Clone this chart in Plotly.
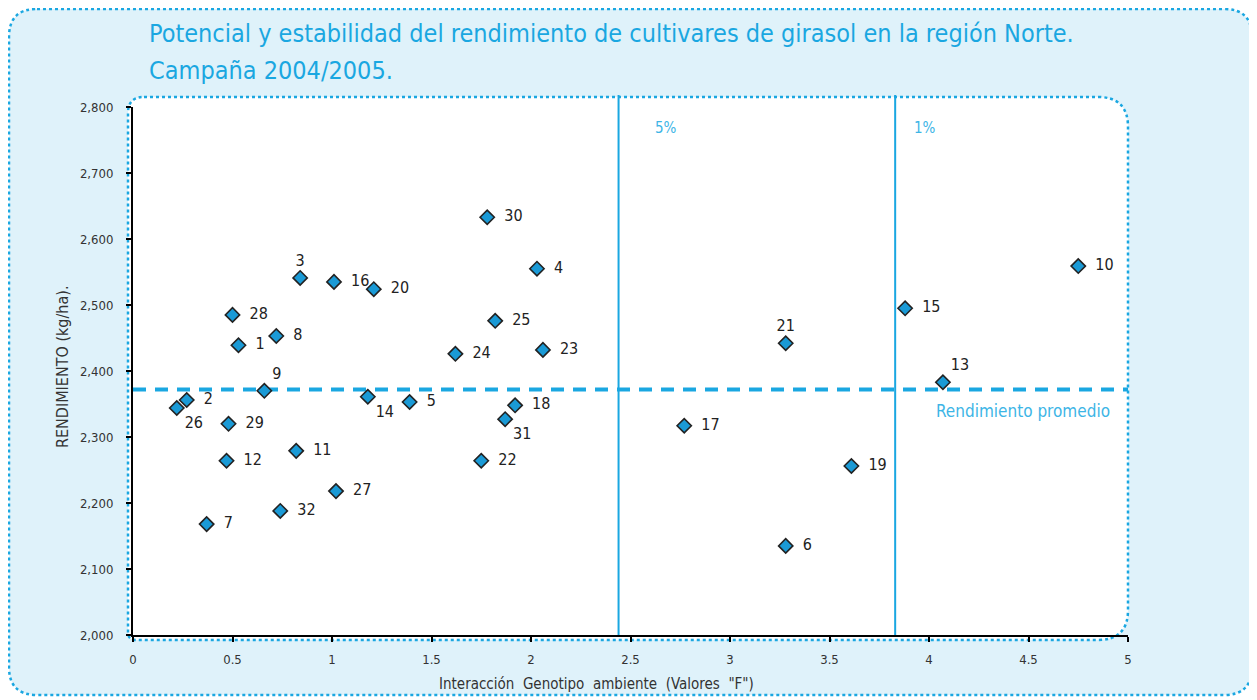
import plotly.graph_objects as go

# ===== data =====
cultivares = ["1", "2", "3", "4", "5", "6", "7", "8", "9", "10", "11", "12", "13", "14", "15", "16",
              "17", "18", "19", "20", "21", "22", "23", "24", "25", "26", "27", "28", "29", "30", "31", "32"]
valores_f = [0.53, 0.27, 0.84, 2.03, 1.39, 3.28, 0.37, 0.72, 0.66, 4.75, 0.82, 0.47, 4.07, 1.18, 3.88, 1.01,
             2.77, 1.92, 3.61, 1.21, 3.28, 1.75, 2.06, 1.62, 1.82, 0.22, 1.02, 0.50, 0.48, 1.78, 1.87, 0.74]
rendimiento = [2439, 2356, 2541, 2555, 2353, 2135, 2168, 2453, 2370, 2559, 2279, 2264, 2383, 2361, 2495, 2535,
               2317, 2348, 2256, 2524, 2442, 2264, 2432, 2426, 2476, 2344, 2218, 2485, 2320, 2633, 2327, 2188]
label_pos = {"3": "top center", "21": "top center", "9": "top right", "13": "top right",
             "26": "bottom right", "14": "bottom right", "31": "bottom right"}

rend_promedio = 2372
f_5 = 2.44
f_1 = 3.83

BLUE = "#1aa7e1"
FONT = "Liberation Sans Narrow, DejaVu Sans Condensed, Arial Narrow, sans-serif"

positions = [label_pos.get(c, "middle right") for c in cultivares]
texts = [("  " if label_pos.get(c) is None else "") + c for c in cultivares]

fig = go.Figure()
fig.add_trace(go.Scatter(
    x=valores_f, y=rendimiento, mode="markers+text",
    text=texts, textposition=positions,
    textfont=dict(family=FONT, size=16, color="#222"),
    marker=dict(symbol="diamond", size=11, color="#1a9ad6", line=dict(color="#222", width=1.6)),
    cliponaxis=False, showlegend=False, hoverinfo="x+y+text",
))

# page px of the plot area: x 133..1128, y 107..635 (the page body adds an 8px margin)
def px(x):
    return (x - 133) / 995

def py(y):
    return (635 - y) / 528

def rounded(x0, y0, x1, y1, r_tl, r_tr, r_br, r_bl):
    pts = [
        f"M{px(x0 + r_tl)},{py(y0)}", f"L{px(x1 - r_tr)},{py(y0)}",
        f"Q{px(x1)},{py(y0)} {px(x1)},{py(y0 + r_tr)}",
        f"L{px(x1)},{py(y1 - r_br)}", f"Q{px(x1)},{py(y1)} {px(x1 - r_br)},{py(y1)}",
        f"L{px(x0 + r_bl)},{py(y1)}", f"Q{px(x0)},{py(y1)} {px(x0)},{py(y1 - r_bl)}",
        f"L{px(x0)},{py(y0 + r_tl)}", f"Q{px(x0)},{py(y0)} {px(x0 + r_tl)},{py(y0)}", "Z",
    ]
    return " ".join(pts)

shapes = [
    dict(type="path", xref="paper", yref="paper", layer="below",
         path=rounded(9, 9, 1252, 695, 28, 28, 28, 28),
         fillcolor="#dff2fa", line=dict(color=BLUE, width=2.5, dash="dot")),
    dict(type="path", xref="paper", yref="paper", layer="below",
         path=rounded(128, 97, 1128, 640, 16, 30, 30, 8),
         fillcolor="white", line=dict(color=BLUE, width=2.5, dash="dot")),
    dict(type="line", xref="x", yref="paper", x0=f_5, x1=f_5, y0=0, y1=py(95),
         line=dict(color=BLUE, width=2), layer="below"),
    dict(type="line", xref="x", yref="paper", x0=f_1, x1=f_1, y0=0, y1=py(95),
         line=dict(color=BLUE, width=2), layer="below"),
    dict(type="line", xref="x", yref="y", x0=0, x1=5, y0=rend_promedio, y1=rend_promedio,
         line=dict(color=BLUE, width=4, dash="13px,9px"), layer="below"),
]

annotations = [
    dict(x=f_5 + 0.24, y=2768, xref="x", yref="y", text="5%", showarrow=False,
         font=dict(family=FONT, size=15, color="#3db5e6")),
    dict(x=f_1 + 0.15, y=2768, xref="x", yref="y", text="1%", showarrow=False,
         font=dict(family=FONT, size=15, color="#3db5e6")),
    dict(x=4.92, y=rend_promedio - 33, xref="x", yref="y", text="Rendimiento promedio",
         showarrow=False, xanchor="right",
         font=dict(family=FONT, size=17, color="#3db5e6")),
    dict(x=px(147), y=py(33), xref="paper", yref="paper", xanchor="left", yanchor="middle",
         showarrow=False,
         text="Potencial y estabilidad del rendimiento de cultivares de girasol en la región Norte.",
         font=dict(family=FONT, size=25, color=BLUE)),
    dict(x=px(147), y=py(70), xref="paper", yref="paper", xanchor="left", yanchor="middle",
         showarrow=False, text="Campaña 2004/2005.",
         font=dict(family=FONT, size=25, color=BLUE)),
    dict(x=px(596), y=py(684), xref="paper", yref="paper", showarrow=False,
         xanchor="center", yanchor="middle",
         text="Interacción  Genotipo  ambiente  (Valores  \"F\")",
         font=dict(family=FONT, size=15, color="#333")),
    dict(x=px(62), y=py(367), xref="paper", yref="paper", showarrow=False, textangle=-90,
         xanchor="center", yanchor="middle",
         text="RENDIMIENTO (kg/ha).",
         font=dict(family=FONT, size=16, color="#333")),
]

fig.update_layout(
    width=1249, height=692,
    margin=dict(l=125, r=129, t=99, b=65),
    paper_bgcolor="white", plot_bgcolor="rgba(0,0,0,0)",
    shapes=shapes, annotations=annotations,
    font=dict(family=FONT, size=13, color="#333"),
)
fig.update_xaxes(range=[0, 5], dtick=0.5, showgrid=False, zeroline=False,
                 showline=True, linecolor="black", linewidth=2,
                 ticks="outside", ticklen=5, tickwidth=2, tickcolor="black",
                 ticklabelstandoff=6)
fig.update_yaxes(range=[2000, 2800], dtick=100, tickformat=",", showgrid=False, zeroline=False,
                 showline=True, linecolor="black", linewidth=2,
                 ticks="outside", ticklen=5, tickwidth=2, tickcolor="black",
                 ticklabelstandoff=10)

fig.write_html("out.html")
